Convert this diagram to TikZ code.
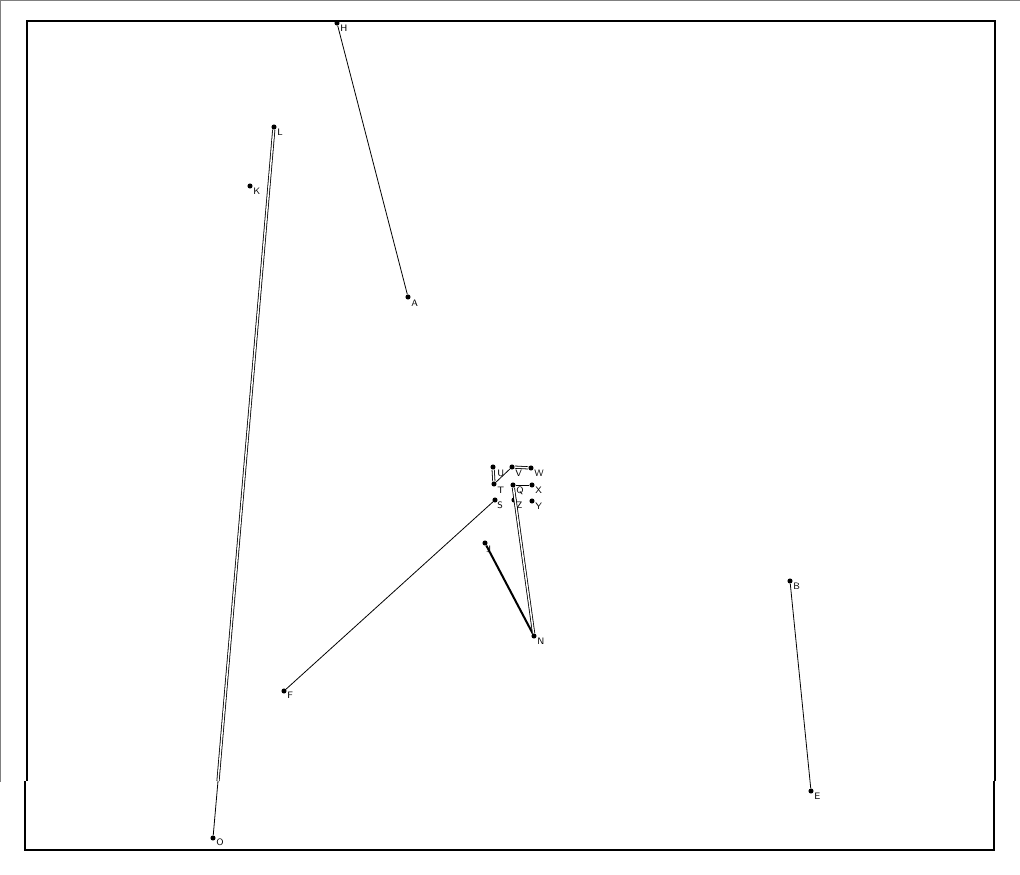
\documentclass[tikz,border=0pt]{standalone}
\usetikzlibrary{positioning}
\tikzset{
  pt/.style={circle,fill=black,inner sep=0pt,minimum size=3.8pt},
  lbl/.style={font=\sffamily\fontsize{7}{8}\selectfont,inner sep=0pt,anchor=north west},
  thinln/.style={line width=0.6pt},
  dbl/.style={line width=0.6pt,double,double distance=1.1pt},
  thickln/.style={line width=1.5pt},
  frame/.style={line width=0.8pt},
}
\begin{document}
\begin{tikzpicture}[x=0.75pt,y=-0.75pt]
\useasboundingbox (0,0) rectangle (1020,874);
% gray page border
\draw[gray,line width=1pt] (0,782) -- (0,0.5) -- (1020,0.5);
% frame
\draw[frame] (27,781) -- (27,21) -- (995,21) -- (995,781);
\draw[frame] (25,781) -- (25,850) -- (994,850) -- (994,781);
% points
\node[pt] (H) at (337,23) {}; \node[lbl] at (340,25) {H};
\node[pt] (A) at (408,297) {}; \node[lbl] at (411,300) {A};
\node[pt] (L) at (274,127) {}; \node[lbl] at (277,129) {L};
\node[pt] (K) at (250,186) {}; \node[lbl] at (253,188) {K};
\node[pt] (O) at (213,838) {}; \node[lbl] at (216,839) {O};
\coordinate (LO) at (218,781);
\node[pt] (F) at (284,691) {}; \node[lbl] at (287,692) {F};
\node[pt] (J) at (485,543) {}; \node[lbl] at (486,546) {J};
\node[pt] (N) at (534,636) {}; \node[lbl] at (537,638) {N};
\node[pt] (B) at (790,581) {}; \node[lbl] at (793,583) {B};
\node[pt] (E) at (811,791) {}; \node[lbl] at (814,793) {E};
\node[pt] (U) at (493,467) {}; \node[lbl] at (497,470) {U};
\node[pt] (V) at (512,467) {}; \node[lbl] at (515,470) {V};
\node[pt] (W) at (531,468) {}; \node[lbl] at (534,470) {W};
\node[pt] (T) at (494,484) {}; \node[lbl] at (497,487) {T};
\node[pt] (Q) at (513,485) {}; \node[lbl] at (516,487) {Q};
\node[pt] (X) at (532,485) {}; \node[lbl] at (535,487) {X};
\node[pt] (S) at (495,500) {}; \node[lbl] at (497,502) {S};
\node[pt] (Z) at (514,500) {}; \node[lbl] at (516,502) {Z};
\node[pt] (Y) at (532,501) {}; \node[lbl] at (535,503) {Y};
% connectors
\draw[thinln] (H) -- (A);
\draw[dbl] (L) -- (LO);
\draw[thinln] (LO) -- (O);
\draw[thinln] (B) -- (E);
\draw[thinln] (F) -- (S);
\draw[thickln] (J) -- (N);
\draw[dbl] (N) -- (Q);
\draw[dbl] (U) -- (T);
\draw[dbl] (V) -- (W);
\draw[thinln] (T) -- (V);
\draw[thinln] (Q) -- (X);
\end{tikzpicture}
\end{document}
